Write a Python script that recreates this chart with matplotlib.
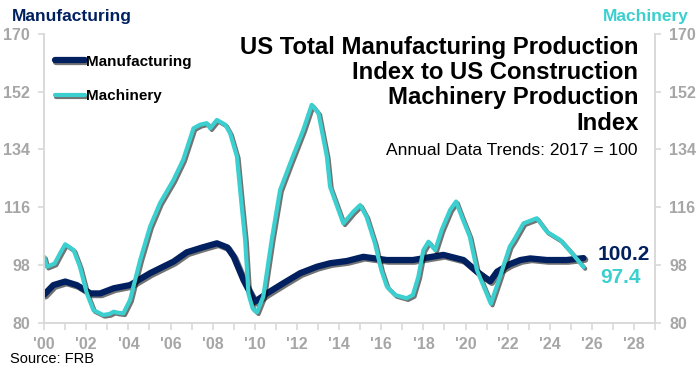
import numpy as np
import matplotlib.pyplot as plt
import matplotlib.patheffects as pe
from matplotlib.ticker import MultipleLocator, FuncFormatter

plt.rcParams['font.family'] = ['Liberation Sans', 'DejaVu Sans']

# 12-month trend values (year, index)
manu_years = [2000.0, 2000.44, 2001.0, 2001.55, 2002.2, 2002.66, 2003.3, 2004.08,
              2005.03, 2006.14, 2006.77, 2007.5, 2008.2, 2008.7, 2009.0, 2009.46,
              2010.0, 2010.57, 2011.36, 2012.15, 2012.94, 2013.57, 2014.37, 2015.15,
              2016.26, 2017.5, 2018.95, 2019.9, 2020.54, 2021.17, 2021.5, 2022.1,
              2022.6, 2023.07, 2023.86, 2024.8, 2025.6]
manu_vals = [88.8, 91.8, 92.9, 91.8, 89.2, 89.2, 90.8, 91.8,
             95.5, 99.1, 102.0, 103.5, 104.8, 103.5, 100.6, 93.4,
             86.6, 89.2, 92.4, 95.5, 97.5, 98.6, 99.3, 100.6,
             99.6, 99.6, 101.2, 99.6, 96.0, 93.0, 96.0, 98.3,
             99.6, 100.1, 99.6, 99.6, 100.2]

mach_years = [2000.0, 2000.13, 2000.5, 2000.76, 2001.0, 2001.4, 2001.7, 2002.03,
              2002.34, 2002.8, 2003.1, 2003.3, 2003.5, 2003.76, 2004.08, 2004.56,
              2005.03, 2005.5, 2006.14, 2006.6, 2007.09, 2007.4, 2007.72, 2007.88,
              2008.2, 2008.6, 2008.83, 2009.15, 2009.38, 2009.54, 2009.7, 2009.9,
              2010.1, 2010.4, 2010.8, 2011.2, 2011.68, 2012.3, 2012.7, 2013.02,
              2013.42, 2013.57, 2014.2, 2014.68, 2015.0, 2015.3, 2015.7, 2016.0,
              2016.27, 2016.66, 2017.2, 2017.5, 2017.76, 2018.0, 2018.24, 2018.56,
              2018.87, 2019.27, 2019.55, 2019.82, 2020.2, 2020.54, 2020.93, 2021.2,
              2021.64, 2022.1, 2022.27, 2022.75, 2023.38, 2023.86, 2024.5, 2025.12,
              2025.6]
mach_vals = [100.6, 97.5, 98.5, 101.7, 104.5, 102.7, 97.5, 89.2,
             84.0, 82.5, 82.8, 83.5, 83.2, 83.0, 87.2, 99.6,
             110.0, 117.3, 124.5, 130.8, 140.6, 141.7, 142.2, 140.6,
             143.2, 141.7, 139.0, 131.8, 116.2, 105.8, 89.0, 84.5,
             83.3, 88.2, 105.8, 121.4, 129.7, 140.1, 147.9, 145.3,
             131.8, 122.4, 111.0, 114.7, 116.7, 113.1, 104.8, 96.5,
             91.3, 88.7, 87.7, 88.7, 94.4, 102.7, 105.3, 102.7,
             109.0, 115.2, 117.8, 113.1, 106.9, 96.5, 90.3, 86.0,
             94.5, 103.8, 105.5, 111.0, 112.6, 108.4, 105.8, 101.2,
             97.4]

yticks = [80, 98, 116, 134, 152, 170]
last_manu = "100.2"
last_mach = "97.4"

navy = "#002060"
teal = "#3CCFCF"
grey = "#a6a6a6"
spine_c = "#d9d9d9"

fig = plt.figure(figsize=(7, 3.76), dpi=100)
ax = fig.add_axes([0.063, 0.141, 0.873, 0.769])
ax2 = ax.twinx()

shadow = [pe.SimpleLineShadow(offset=(1.2, -1.2), alpha=0.55, shadow_color="black"), pe.Normal()]
l1, = ax.plot(manu_years, manu_vals, color=navy, lw=4.5, solid_capstyle="round",
              path_effects=shadow, label="Manufacturing")
l2, = ax2.plot(mach_years, mach_vals, color=teal, lw=3, solid_capstyle="round",
               path_effects=shadow, label="Machinery")

for a in (ax, ax2):
    a.set_xlim(2000, 2029)
    a.set_ylim(80, 170)
    a.set_yticks(yticks)
    a.spines["top"].set_visible(False)
    for s in ("left", "right", "bottom"):
        a.spines[s].set_color(spine_c)
        a.spines[s].set_linewidth(1.2)
    a.tick_params(axis="y", colors=spine_c, labelcolor=grey, length=4, width=1.2,
                  labelsize=11.5, pad=6)
    for lab in a.get_yticklabels():
        lab.set_fontweight("bold")

ax.xaxis.set_major_locator(MultipleLocator(2))
ax.xaxis.set_minor_locator(MultipleLocator(1))
ax.xaxis.set_major_formatter(FuncFormatter(lambda v, p: "'%02d" % (int(round(v)) % 100)))
ax.tick_params(axis="x", which="both", colors=spine_c, labelcolor=grey, length=5, width=1.2,
               labelsize=11.5, pad=5)
for lab in ax.get_xticklabels():
    lab.set_fontweight("bold")

ax.legend(handles=[l1, l2], loc="upper left", bbox_to_anchor=(-0.005, 0.975), frameon=False,
          handlelength=1.95, labelspacing=1.35, handletextpad=0.1,
          prop={"weight": "bold", "size": 11})

fig.text(0.017, 0.955, "Manufacturing", color=navy, fontsize=12.5, fontweight="bold",
         ha="left", va="center")
fig.text(0.984, 0.955, "Machinery", color=teal, fontsize=12.5, fontweight="bold",
         ha="right", va="center")

fig.text(0.912, 0.905, "US Total Manufacturing Production\nIndex to US Construction\nMachinery Production\nIndex",
         ha="right", va="top", fontsize=17.2, fontweight="bold", linespacing=1.13)
fig.text(0.91, 0.60, "Annual Data Trends: 2017 = 100", ha="right", va="center", fontsize=12.5)

ax.text(2026.25, 101.4, last_manu, color=navy, fontsize=15, fontweight="bold",
        ha="left", va="center")
ax.text(2026.4, 94.3, last_mach, color=teal, fontsize=15, fontweight="bold",
        ha="left", va="center")

fig.text(0.014, 0.045, "Source: FRB", fontsize=10.5, ha="left", va="center")

fig.savefig("out.png", dpi=100)
